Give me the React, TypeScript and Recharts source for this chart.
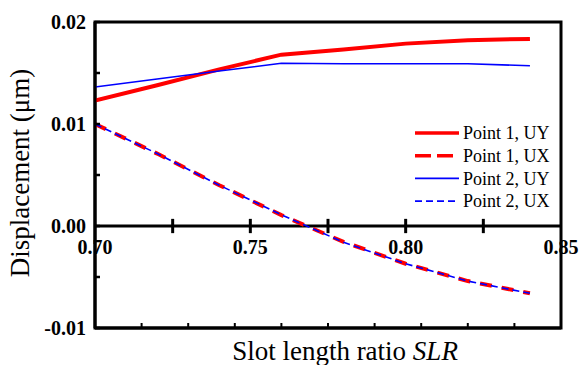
import { LineChart, Line, XAxis, YAxis, ReferenceArea, ReferenceLine, ReferenceDot, Legend } from 'recharts'

// slot length ratio (x) and displacements in µm
const slr = [0.70, 0.72, 0.74, 0.76, 0.78, 0.80, 0.82, 0.84]
const p1Uy = [0.0123, 0.0138, 0.01535, 0.0168, 0.0173, 0.01788, 0.01822, 0.01834]
const p1Ux = [0.0100, 0.0071, 0.0040, 0.00107, -0.00156, -0.0037, -0.0054, -0.0066]
const p2Uy = [0.01363, 0.01441, 0.01519, 0.01595, 0.0159, 0.0159, 0.0159, 0.01571]
const p2Ux = [0.0100, 0.0071, 0.0040, 0.0011, -0.0016, -0.0037, -0.0054, -0.0066]

const xLabelTicks = [0.70, 0.75, 0.80, 0.85]
const zeroLineTicks = [0.725, 0.75, 0.775, 0.80, 0.825]
const bottomTicks = [0.7, 0.715, 0.73, 0.745, 0.76, 0.775, 0.79, 0.805, 0.82, 0.835, 0.85]
const yTicks = [-0.01, -0.005, 0, 0.005, 0.01, 0.015, 0.02]
const yLabelTicks = [-0.01, 0, 0.01, 0.02]

const data = slr.map((x, i) => ({
  slr: x,
  p1Uy: p1Uy[i],
  p1Ux: p1Ux[i],
  p2Uy: p2Uy[i],
  p2Ux: p2Ux[i],
}))

const FONT = '"Liberation Serif", "Times New Roman", serif'

const SERIES = [
  { key: 'p1Uy', name: 'Point 1, UY', color: '#ff0000', width: 4, dash: undefined, legendDash: undefined },
  { key: 'p1Ux', name: 'Point 1, UX', color: '#ff0000', width: 4, dash: '12 10', legendDash: '16 6' },
  { key: 'p2Uy', name: 'Point 2, UY', color: '#0000ff', width: 1.6, dash: undefined, legendDash: undefined },
  { key: 'p2Ux', name: 'Point 2, UX', color: '#0000ff', width: 1.6, dash: '7 4', legendDash: '7 4' },
]

function YTick({ x, y, payload }: any) {
  const v = payload.value
  const major = yLabelTicks.some(t => Math.abs(t - v) < 1e-9)
  return (
    <g>
      <line x1={x} x2={x + 5} y1={y} y2={y} stroke="#000" strokeWidth={2.5} />
      {major && (
        <text x={x - 9} y={y} dy="0.35em" textAnchor="end" fontFamily={FONT} fontWeight="bold" fontSize={20} fill="#000">
          {v.toFixed(2)}
        </text>
      )}
    </g>
  )
}

function BottomTick({ x, y }: any) {
  return <line x1={x} x2={x} y1={y} y2={y - 5} stroke="#000" strokeWidth={2} />
}

// tick labels that sit under the zero line
function ZeroTickLabel({ viewBox, value }: any) {
  const cx = viewBox.x + viewBox.width / 2
  const cy = viewBox.y + viewBox.height / 2
  return (
    <text x={cx} y={cy + 28} textAnchor="middle" fontFamily={FONT} fontWeight="bold" fontSize={20} fill="#000">
      {value}
    </text>
  )
}

function LegendBox() {
  return (
    <svg width={170} height={95}>
      {SERIES.map((s, i) => {
        const cy = 15 + i * 22.7
        return (
          <g key={s.key}>
            <line x1={10} x2={54} y1={cy} y2={cy} stroke={s.color} strokeWidth={s.width === 4 ? 3.5 : 1.6} strokeDasharray={s.legendDash} />
            <text x={58} y={cy} dy="0.35em" fontFamily={FONT} fontSize={18} fill="#000">{s.name}</text>
          </g>
        )
      })}
    </svg>
  )
}

export default function App() {
  return (
    <div style={{ position: 'absolute', left: 0, top: 0, background: '#fff' }}>
      <LineChart width={583} height={365} data={data} margin={{ top: 22, right: 22, bottom: 0, left: 0 }}>
        <XAxis
          dataKey="slr"
          type="number"
          domain={[0.7, 0.85]}
          ticks={bottomTicks}
          interval={0}
          allowDataOverflow
          height={37}
          tickSize={0}
          tickMargin={0}
          tickLine={false}
          tick={<BottomTick />}
          axisLine={{ stroke: '#000', strokeWidth: 3 }}
          label={{
            content: ({ viewBox }: any) => (
              <text x={viewBox.x + viewBox.width / 2 + 17} y={viewBox.y + 32} textAnchor="middle" fontFamily={FONT} fontSize={27} fill="#000">
                <tspan>Slot length ratio </tspan>
                <tspan fontStyle="italic">SLR</tspan>
              </text>
            ),
          }}
        />
        <YAxis
          type="number"
          domain={[-0.01, 0.02]}
          ticks={yTicks}
          interval={0}
          allowDataOverflow
          width={95}
          tickSize={0}
          tickMargin={0}
          tickLine={false}
          tick={<YTick />}
          axisLine={{ stroke: '#000', strokeWidth: 3 }}
          label={{
            content: ({ viewBox }: any) => {
              const cx = 29
              const cy = viewBox.y + viewBox.height / 2 - 2
              return (
                <text x={cx} y={cy} transform={`rotate(-90 ${cx} ${cy})`} textAnchor="middle" fontFamily={FONT} fontSize={27} fill="#000">
                  Displacement (μm)
                </text>
              )
            },
          }}
        />
        <ReferenceArea x1={0.7} x2={0.85} y1={-0.01} y2={0.02} fill="none" stroke="#000" strokeWidth={3} ifOverflow="visible" />
        <ReferenceLine y={0} stroke="#000" strokeWidth={3} />
        {zeroLineTicks.map(t => (
          <ReferenceLine key={t} segment={[{ x: t, y: -0.0007 }, { x: t, y: 0.0007 }]} stroke="#000" strokeWidth={3} />
        ))}
        {xLabelTicks.map(t => (
          <ReferenceDot
            key={t}
            x={t}
            y={0}
            r={1}
            fill="none"
            stroke="none"
            label={{ value: t.toFixed(2), content: <ZeroTickLabel /> }}
          />
        ))}
        {SERIES.map(s => (
          <Line
            key={s.key}
            dataKey={s.key}
            name={s.name}
            type="linear"
            stroke={s.color}
            strokeWidth={s.width}
            strokeDasharray={s.dash}
            dot={false}
            isAnimationActive={false}
          />
        ))}
        <Legend
          layout="vertical"
          verticalAlign="middle"
          align="center"
          content={() => <LegendBox />}
          wrapperStyle={{ left: 405, top: 118, width: 170, height: 95 }}
        />
      </LineChart>
    </div>
  )
}
